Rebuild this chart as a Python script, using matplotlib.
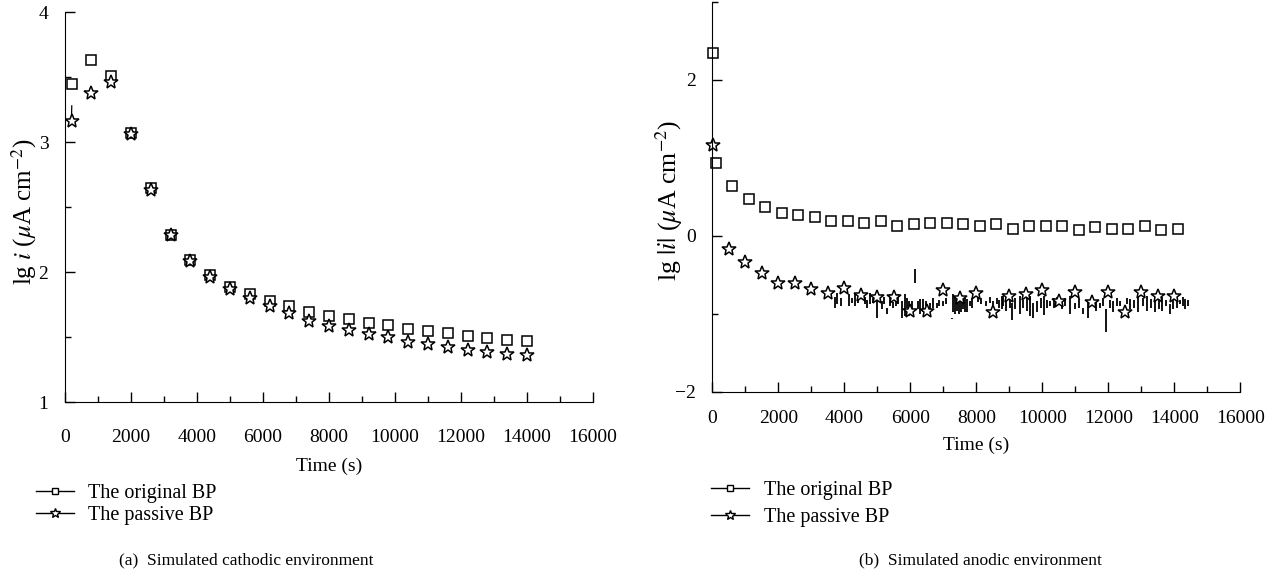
import matplotlib.pyplot as plt
from matplotlib.lines import Line2D
from matplotlib.ticker import MultipleLocator

plt.rcParams['font.family'] = ['Liberation Serif', 'DejaVu Serif']
plt.rcParams['mathtext.fontset'] = 'stix'
plt.rcParams['font.size'] = 14

# (a) simulated cathodic environment
cath_t = [200, 800, 1400, 2000, 2600, 3200, 3800, 4400, 5000, 5600, 6200, 6800,
          7400, 8000, 8600, 9200, 9800, 10400, 11000, 11600, 12200, 12800, 13400, 14000]
cath_orig = [3.446, 3.633, 3.51, 3.074, 2.645, 2.287, 2.092, 1.98, 1.89, 1.83, 1.78, 1.74,
             1.697, 1.666, 1.638, 1.612, 1.597, 1.566, 1.548, 1.535, 1.508, 1.497, 1.479, 1.472]
cath_pass = [3.166, 3.377, 3.466, 3.06, 2.635, 2.283, 2.087, 1.965, 1.875, 1.80, 1.74, 1.685,
             1.628, 1.587, 1.556, 1.523, 1.505, 1.466, 1.448, 1.428, 1.40, 1.389, 1.372, 1.364]
cath_tail_t = [205, 198]
cath_tail_v = [3.28, 3.20]

# (b) simulated anodic environment
anod_orig_t = [20, 110, 600, 1100, 1600, 2100, 2600, 3100, 3600, 4100, 4600, 5100, 5600,
               6100, 6600, 7100, 7600, 8100, 8600, 9100, 9600, 10100, 10600, 11100, 11600,
               12100, 12600, 13100, 13600, 14100]
anod_orig = [2.34, 0.93, 0.645, 0.478, 0.372, 0.295, 0.265, 0.244, 0.184, 0.188, 0.17, 0.188,
             0.132, 0.154, 0.167, 0.171, 0.154, 0.12, 0.15, 0.094, 0.128, 0.128, 0.12, 0.073,
             0.115, 0.085, 0.085, 0.12, 0.073, 0.094]
anod_pass_t = [30, 500, 1000, 1500, 2000, 2500, 3000, 3500, 4000, 4500, 5000, 5500, 6000,
               6500, 7000, 7500, 8000, 8500, 9000, 9500, 10000, 10500, 11000, 11500, 12000,
               12500, 13000, 13500, 14000]
anod_pass = [1.167, -0.171, -0.333, -0.474, -0.611, -0.603, -0.68, -0.74, -0.67, -0.76, -0.79,
             -0.79, -0.96, -0.96, -0.70, -0.80, -0.73, -0.975, -0.77, -0.75, -0.70, -0.83,
             -0.72, -0.855, -0.727, -0.98, -0.727, -0.778, -0.77]

# noisy raw record of the passive BP (anodic), read as vertical excursions
noise_t = [3720, 3790, 3900, 4150, 4230, 4320, 4420, 4630, 4700, 4780, 4880, 4980, 5130,
           5200, 5280, 5390, 5470, 5560, 5640, 5740, 5840, 5900, 5960, 6040, 6150, 6220,
           6290, 6390, 6480, 6600, 6700, 6800, 6880, 7000, 7080, 7250, 7300, 7360, 7420,
           7480, 7540, 7600, 7660, 7710, 7800, 7880, 8060, 8150, 8290, 8400, 8500, 8620,
           8700, 8770, 8820, 8900, 9020, 9070, 9180, 9320, 9420, 9530, 9630, 9730, 9850,
           9950, 10050, 10150, 10230, 10350, 10450, 10600, 10700, 10840, 10990, 11100,
           11240, 11390, 11500, 11620, 11750, 11850, 11930, 12050, 12150, 12250, 12350,
           12460, 12560, 12660, 12780, 12910, 13050, 13160, 13300, 13420, 13520, 13620,
           13750, 13870, 13960, 14070, 14160, 14250, 14330, 14400]
noise_hi = [-0.79, -0.73, -0.80, -0.75, -0.80, -0.75, -0.78, -0.79, -0.82, -0.73, -0.80,
            -0.83, -0.83, -0.78, -0.92, -0.75, -0.85, -0.80, -0.75, -0.83, -0.75, -0.80,
            -0.83, -0.83, -0.43, -0.84, -0.81, -0.81, -0.83, -0.86, -0.80, -0.86, -0.82,
            -0.83, -0.80, -1.05, -0.75, -0.77, -0.79, -0.75, -0.83, -0.81, -0.79, -0.81,
            -0.83, -0.80, -0.75, -0.80, -0.83, -0.78, -0.83, -0.80, -0.82, -0.77, -0.77,
            -0.79, -0.79, -0.86, -0.80, -0.77, -0.82, -0.79, -0.77, -0.86, -0.83, -0.80,
            -0.77, -0.82, -0.83, -0.80, -0.78, -0.82, -0.80, -0.77, -0.86, -0.80, -0.92,
            -0.83, -0.80, -0.84, -0.86, -0.80, -0.94, -0.82, -0.83, -0.80, -0.83, -0.69,
            -0.80, -0.81, -0.82, -0.75, -0.80, -0.77, -0.81, -0.77, -0.80, -0.79, -0.82,
            -0.88, -0.80, -0.77, -0.82, -0.79, -0.81, -0.82]
noise_lo = [-0.92, -0.88, -0.90, -0.90, -0.86, -0.90, -0.86, -0.88, -0.92, -0.88, -0.86,
            -1.05, -0.94, -0.88, -1.00, -0.90, -0.92, -0.90, -0.88, -1.05, -1.03, -0.92,
            -1.03, -1.00, -0.60, -0.94, -1.00, -0.98, -0.90, -0.98, -0.92, -0.92, -0.90,
            -0.90, -0.88, -1.07, -0.98, -1.00, -0.96, -1.00, -0.98, -0.94, -0.98, -0.98,
            -0.90, -0.92, -0.85, -0.88, -0.90, -0.86, -0.90, -0.88, -0.92, -0.94, -0.90,
            -0.96, -0.92, -1.08, -0.94, -1.00, -0.92, -0.96, -1.03, -1.05, -0.98, -0.92,
            -1.02, -0.92, -0.90, -0.92, -0.88, -0.94, -0.90, -1.00, -0.94, -0.92, -1.00,
            -1.05, -0.90, -0.96, -0.92, -0.90, -1.24, -0.92, -0.98, -0.90, -0.90, -0.70,
            -0.88, -0.94, -0.92, -0.98, -0.90, -0.96, -0.92, -0.98, -0.94, -0.96, -0.90,
            -1.00, -0.94, -0.92, -0.88, -0.90, -0.94, -0.90]

fig = plt.figure(figsize=(12.77, 5.79), dpi=100)
ax1 = fig.add_axes([0.0509, 0.3052, 0.4135, 0.6736])
ax2 = fig.add_axes([0.5578, 0.3235, 0.4135, 0.673])

sq = dict(marker='s', linestyle='none', mfc='white', mec='black', mew=1.1)
st = dict(marker='*', linestyle='none', mfc='white', mec='black', mew=1.1)

ax1.plot(cath_t, cath_orig, ms=7, **sq)
ax1.plot(cath_tail_t, cath_tail_v, color='black', lw=0.9)
ax1.plot(cath_t, cath_pass, ms=10, **st)

ax2.vlines(noise_t, noise_lo, noise_hi, color='black', lw=1.3)
ax2.plot(anod_orig_t, anod_orig, ms=7.2, clip_on=False, **sq)
ax2.plot(anod_pass_t, anod_pass, ms=10, clip_on=False, **st)

for ax in (ax1, ax2):
    ax.set_xlim(0, 16000)
    ax.xaxis.set_major_locator(MultipleLocator(2000))
    ax.xaxis.set_minor_locator(MultipleLocator(1000))
    ax.spines['top'].set_visible(False)
    ax.spines['right'].set_visible(False)
    ax.tick_params(which='both', direction='in', width=1, labelsize=14)
    ax.tick_params(axis='y', pad=12)
    ax.tick_params(which='major', length=7)
    ax.tick_params(which='minor', length=4)

ax1.tick_params(axis='x', pad=19)
ax2.tick_params(axis='x', pad=13)
ax1.set_xlabel('Time (s)', fontsize=14, labelpad=9)
ax2.set_xlabel('Time (s)', fontsize=14, labelpad=7)

ax1.set_ylim(1, 4)
ax1.yaxis.set_major_locator(MultipleLocator(1))
ax1.yaxis.set_minor_locator(MultipleLocator(0.5))
ax1.set_ylabel(r'lg $i$ ($\mu$A cm$^{-2}$)', fontsize=18)
ax1.yaxis.set_label_coords(-0.05, 0.49)

ax2.set_ylim(-2, 3)
ax2.set_yticks([-2, 0, 2])
ax2.set_yticks([-1, 1, 3], minor=True)
ax2.set_yticklabels(['\u22122', '0', '2'])
ax2.set_ylabel(r'lg $|i|$ ($\mu$A cm$^{-2}$)', fontsize=18.5)
ax2.yaxis.set_label_coords(-0.051, 0.49)

handles = [Line2D([], [], color='black', lw=1, marker='s', ms=5, mfc='white', mec='black'),
           Line2D([], [], color='black', lw=1, marker='*', ms=7, mfc='white', mec='black')]
labels = ['The original BP', 'The passive BP']
fig.legend(handles, labels, loc='upper left', bbox_to_anchor=(0.020, 0.182), frameon=False,
           fontsize=14.5, handlelength=1.9, handletextpad=0.7, labelspacing=0.15, borderpad=0)
fig.legend(handles, labels, loc='upper left', bbox_to_anchor=(0.549, 0.186), frameon=False,
           fontsize=14.5, handlelength=1.9, handletextpad=0.7, labelspacing=0.35, borderpad=0)

fig.text(0.193, 0.033, '(a)  Simulated cathodic environment', ha='center', va='center', fontsize=12.5)
fig.text(0.768, 0.033, '(b)  Simulated anodic environment', ha='center', va='center', fontsize=12.5)

fig.savefig('out.png', dpi=100)
